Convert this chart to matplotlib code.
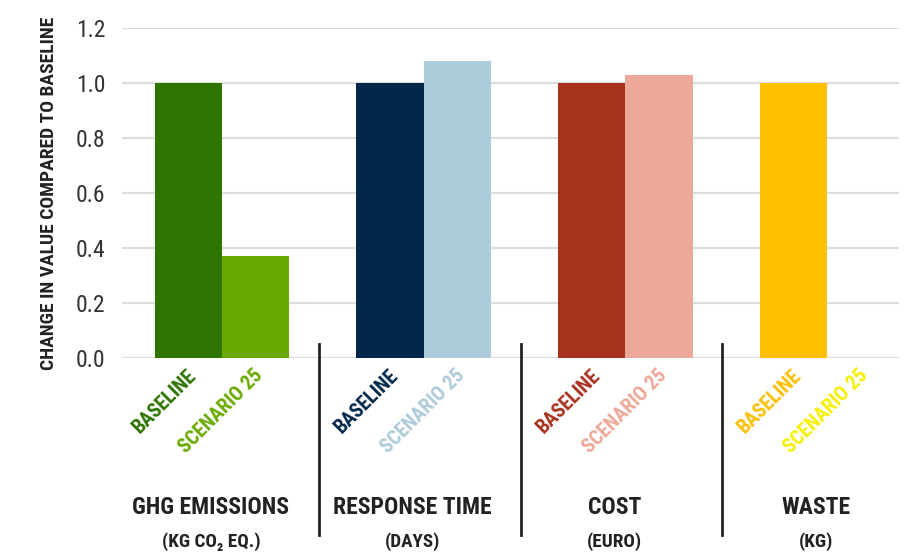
import matplotlib
matplotlib.use('Agg')
from matplotlib import pyplot as plt
from matplotlib import font_manager as fm
import numpy as np

##### DATA #####
groups = ['GHG EMISSIONS', 'RESPONSE TIME', 'COST', 'WASTE']
units = ['(KG CO\u2082 EQ.)', '(DAYS)', '(EURO)', '(KG)']
series = ['BASELINE', 'SCENARIO 25']
baseline = [1.0, 1.0, 1.0, 1.0]
scenario25 = [0.37, 1.08, 1.03, 0.0]
yticks = [0.0, 0.2, 0.4, 0.6, 0.8, 1.0, 1.2]
ylabel = 'CHANGE IN VALUE COMPARED TO BASELINE'
##### ENDDATA #####

base_colors = ['#2e7400', '#00264a', '#a6321e', '#fdbf00']
scen_colors = ['#6aaa00', '#aecbdb', '#eea89a', '#f7f000']

# look for a narrow bold font, fall back to DejaVu Sans
def find_font(keys, bold):
	for key in keys:
		for f in fm.fontManager.ttflist:
			name = f.fname.replace('-', '').replace('_', '').lower()
			if key in name:
				w = f.weight if isinstance(f.weight, int) else (700 if 'bold' in str(f.weight) else 400)
				if (w >= 700) == bold and 'italic' not in name and 'oblique' not in name:
					return f
	return None

keys = ['robotocondensed', 'opensanscond', 'liberationsansnarrow', 'dejavusanscondensed']
fb = find_font(keys, True)
fr = find_font(keys, False)

def fprops(f, bold):
	if f is None:
		return dict(family=['DejaVu Sans'], weight='bold' if bold else 'normal')
	return dict(family=[f.name, 'DejaVu Sans'], weight=f.weight, stretch=f.stretch, style=f.style)

BOLD = fprops(fb, True)
REG = fprops(fr, False)

fig = plt.figure(figsize=(9.06, 5.53), dpi=100)
ax = fig.add_axes([0.1347, 0.3535, 0.8576, 0.5955])

x = np.arange(len(groups))
w = 1/3
ax.bar(x - w/2, baseline, w, color=base_colors, zorder=3)
ax.bar(x + w/2, scenario25, w, color=scen_colors, zorder=3)

ax.set_xlim(-0.496, 3.357)
ax.set_ylim(0, 1.2)
ax.set_yticks(yticks)
ax.set_yticklabels(['%.1f' % t for t in yticks], color='#333333', fontsize=17, **REG)
ax.set_xticks([])
ax.tick_params(axis='y', length=0, pad=12)
ax.yaxis.grid(True, color='#dddddd', lw=1.6, zorder=0)
ax.set_axisbelow(True)
for s in ax.spines.values():
	s.set_visible(False)
ax.set_ylabel(ylabel, fontsize=14, color='#222222', labelpad=13, **BOLD)

for i in range(len(groups)):
	ax.text(x[i] - w/2 + 0.06, -0.03, series[0], rotation=45, ha='right', va='top',
		color=base_colors[i], fontsize=14.5, clip_on=False, **BOLD)
	ax.text(x[i] + w/2 + 0.055, -0.03, series[1], rotation=45, ha='right', va='top',
		color=scen_colors[i], fontsize=14.5, clip_on=False, **BOLD)
	ax.text(x[i] - 0.055, -0.545, groups[i], ha='center', va='center', color='#222222',
		fontsize=17, clip_on=False, **BOLD)
	ax.text(x[i] - 0.055, -0.672, units[i], ha='center', va='center', color='#222222',
		fontsize=13.8, clip_on=False, **BOLD)

for xs in x[:-1] + 0.48:
	ax.plot([xs, xs], [0.05, -0.645], color='#222222', lw=2, clip_on=False, zorder=4)

fig.savefig('out.png', dpi=100)
